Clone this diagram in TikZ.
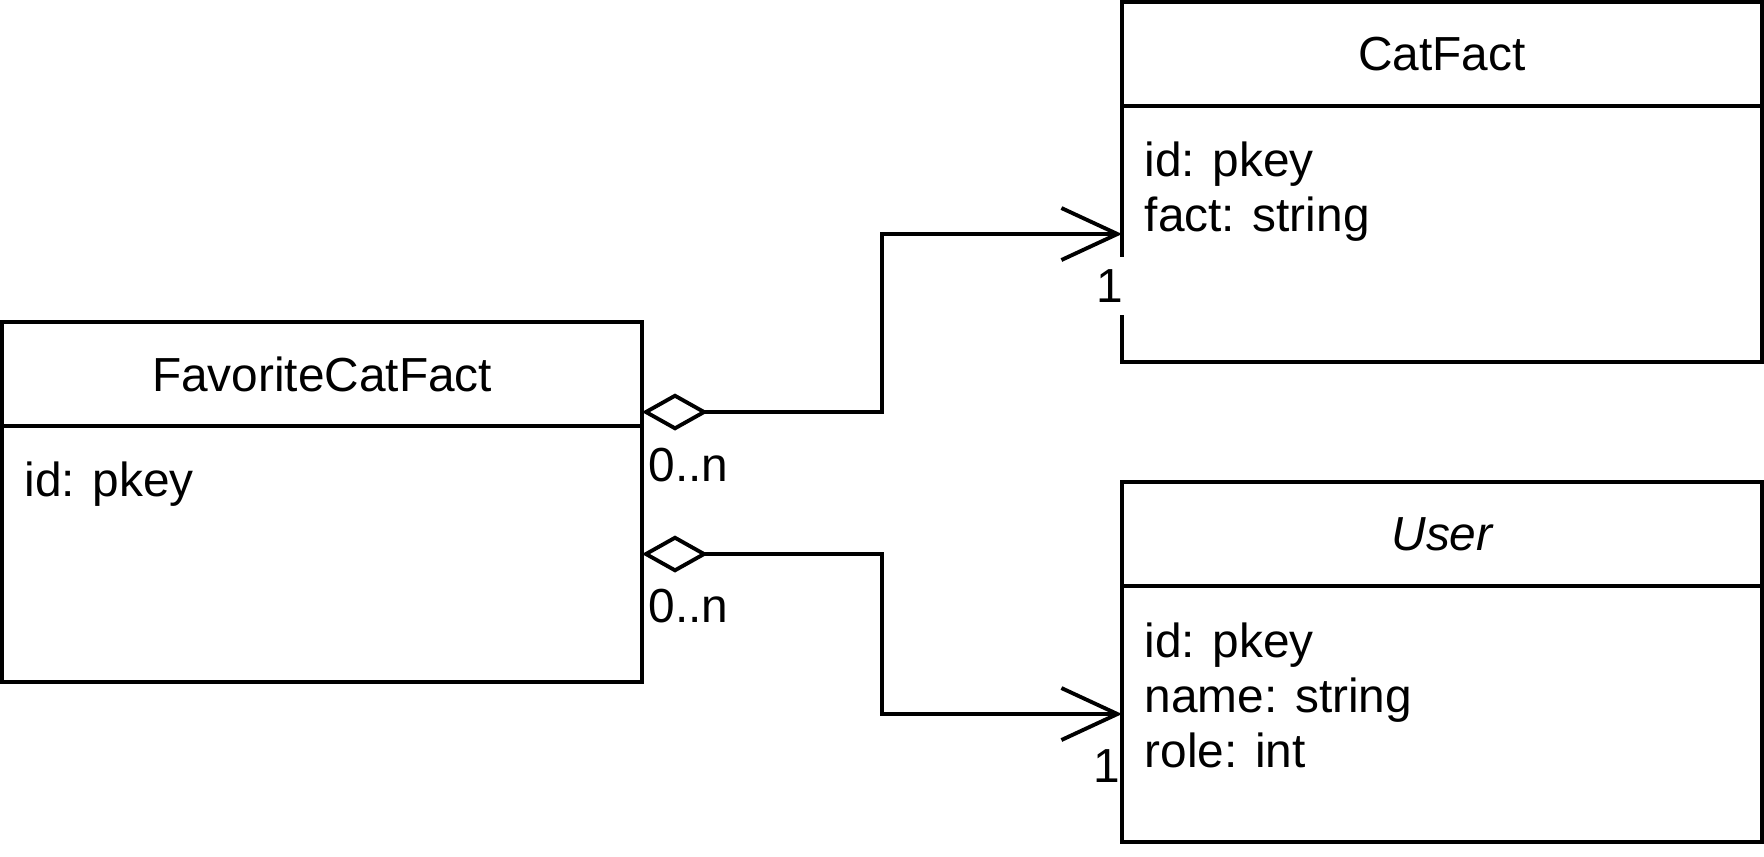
\documentclass[tikz,border=0pt]{standalone}
\usepackage{fontspec}
\setmainfont{Liberation Sans}
\usetikzlibrary{positioning, arrows.meta}
\tikzstyle{every node}=[font=\fontsize{13.6}{15.6}\selectfont]
\tikzstyle{head} = [rectangle, draw, line width=1.1pt, minimum width=6.4cm, minimum height=1.04cm, inner sep=0pt, outer sep=0pt]
\tikzstyle{body} = [rectangle, draw, line width=1.1pt, minimum width=6.4cm, minimum height=2.56cm, inner sep=0pt, outer sep=0pt]
\tikzstyle{attr} = [anchor=north west, align=left, inner sep=0pt]
\tikzstyle{mult} = [inner sep=0pt]
\tikzstyle{line} = [draw, line width=1.1pt, {Diamond[open, length=0.66cm, width=0.37cm]}-{Straight Barb[length=0.56cm, width=0.52cm]}]

\begin{document}
\begin{tikzpicture}
    \useasboundingbox (0,0) rectangle (17.64,-8.56);
    % Place nodes
    \node [head] (favhead) at (3.22,-3.74) {FavoriteCatFact};
    \node [body, below=0pt of favhead] (favbody) {};
    \node [head] (facthead) at (14.42,-0.54) {CatFact};
    \node [body, below=0pt of facthead] (factbody) {};
    \node [head] (userhead) at (14.42,-5.34) {\itshape User};
    \node [body, below=0pt of userhead] (userbody) {};
    \node [attr, below right=0.35cm and 0.22cm of favbody.north west] (favattr) {id: pkey};
    \node [attr, below right=0.35cm and 0.22cm of factbody.north west] (factattr) {id: pkey\\fact: string};
    \node [attr, below right=0.36cm and 0.22cm of userbody.north west] (userattr) {id: pkey\\name: string\\role: int};
    % Draw edges
    \coordinate (favtop) at ([yshift=-0.38cm]favhead.east);
    \path [line] (favtop) -- ++(2.4,0) |- (factbody.west);
    \path [line] (favbody.east) -- ++(2.4,0) |- (userbody.west);
    % Multiplicities
    \node [mult, below right=0.35cm and 0.06cm of favtop] (favmult1) {0..n};
    \node [mult, below right=0.34cm and 0.06cm of favbody.east] (favmult2) {0..n};
    \node [mult, fill=white, inner xsep=0.05cm, inner ysep=0.13cm] (factmult) at ([xshift=-0.12cm, yshift=-0.52cm]factbody.west) {1};
    \node [mult] (usermult) at ([xshift=-0.15cm, yshift=-0.52cm]userbody.west) {1};
\end{tikzpicture}
\end{document}
